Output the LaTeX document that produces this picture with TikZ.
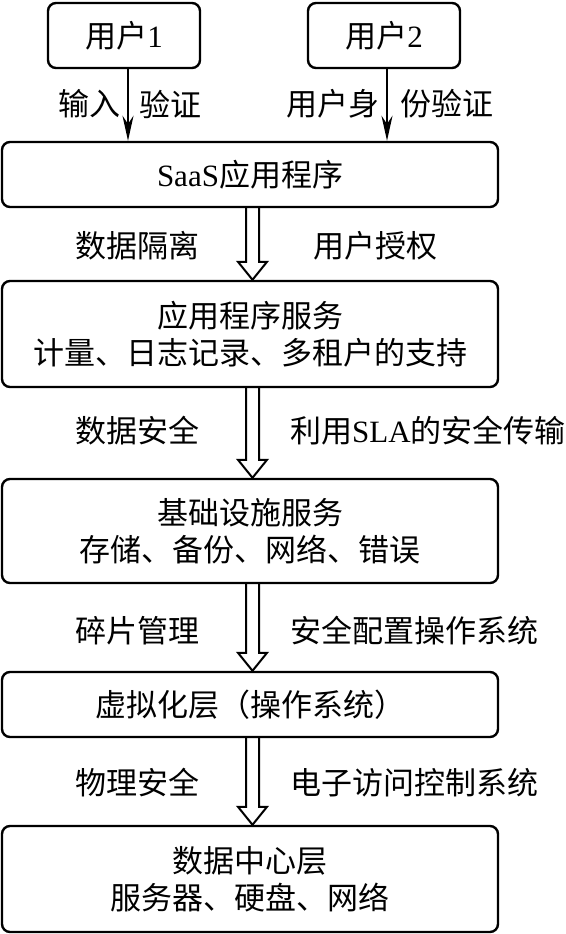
\documentclass[tikz,border=0pt]{standalone}
\usepackage{fontspec}
\setmainfont{Liberation Serif}
\newfontfamily\cjk{Noto Sans CJK SC}
\usetikzlibrary{arrows.meta}
\tikzset{
    layer/.style={rectangle, rounded corners=8pt, draw, line width=2.4pt, minimum width=496pt, align=center, inner sep=0pt},
    user/.style={rectangle, rounded corners=8pt, draw, line width=2.4pt, minimum width=152pt, minimum height=65pt},
    lbl/.style={inner sep=0pt},
    thinarrow/.style={line width=2pt, -{Stealth[length=25pt,width=11pt]}},
    hollow/.style={line width=2pt, line join=miter},
}

\begin{document}
\begin{tikzpicture}[x=1pt, y=-1pt, font=\cjk\fontsize{31}{37}\selectfont]
    \useasboundingbox (0,0) rectangle (565,934);
    % Users
    \node[user] (u1) at (124,35.5) {用户\textrm{1}};
    \node[user] (u2) at (384,35.5) {用户\textrm{2}};
    % Layers
    \node[layer, minimum height=65pt] (saas) at (250,174.5) {\textrm{SaaS}应用程序};
    \node[layer, minimum height=106pt] (app) at (250,334) {应用程序服务\\计量、日志记录、多租户的支持};
    \node[layer, minimum height=104pt] (infra) at (250,531) {基础设施服务\\存储、备份、网络、错误};
    \node[layer, minimum height=65pt] (virt) at (250,704.5) {虚拟化层（操作系统）};
    \node[layer, minimum height=106pt] (dc) at (250,879) {数据中心层\\服务器、硬盘、网络};
    % User arrows
    \coordinate (a1) at ([xshift=4pt]u1.south);
    \coordinate (a2) at ([xshift=3pt]u2.south);
    \draw[thinarrow] (a1) -- (a1 |- saas.north);
    \draw[thinarrow] (a2) -- (a2 |- saas.north);
    \node[lbl, anchor=east] (in1) at (121,104) {输入};
    \node[lbl, anchor=west] (ver1) at (139,104) {验证};
    \node[lbl, anchor=east] (in2) at (380,104) {用户身};
    \node[lbl, anchor=west] (ver2) at (400,104) {份验证};
    % Hollow arrows between layers
    \foreach \a/\b in {saas/app, app/infra, infra/virt, virt/dc} {
        \draw[hollow] ([xshift=-4pt]\a.south) -- ([xshift=-4pt,yshift=18pt]\b.north)
            -- ([xshift=-12pt,yshift=18pt]\b.north) -- ([xshift=2.5pt]\b.north)
            -- ([xshift=17pt,yshift=18pt]\b.north) -- ([xshift=9pt,yshift=18pt]\b.north)
            -- ([xshift=9pt]\a.south);
    }
    % Side labels
    \foreach \y/\l/\r/\xr [count=\i] in {246/数据隔离/用户授权/313,
        431/数据安全/利用\textrm{SLA}的安全传输/290,
        631/碎片管理/安全配置操作系统/290,
        783/物理安全/电子访问控制系统/290} {
        \node[lbl, anchor=east] (left\i) at (200,\y) {\l};
        \node[lbl, anchor=west] (right\i) at (\xr,\y) {\r};
    }
\end{tikzpicture}
\end{document}
